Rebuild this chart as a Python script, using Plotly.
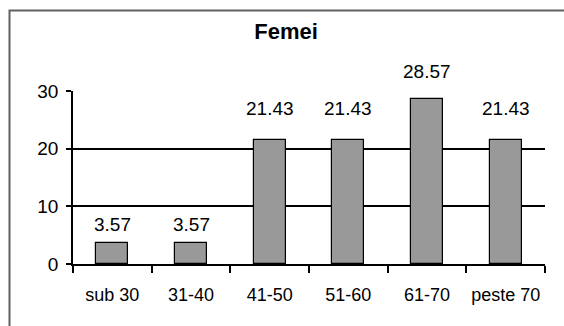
import plotly.graph_objects as go

# Age groups and percentage of women in each group
categories = ["sub 30", "31-40", "41-50", "51-60", "61-70", "peste 70"]
values = [3.57, 3.57, 21.43, 21.43, 28.57, 21.43]
y_ticks = [0, 10, 20, 30]

# vertical gap (px) between each bar top and its value label
label_gap = [9, 9, 22, 22, 18, 22]

W, H = 564, 326
L, R, T, B = 73, 19, 91, 62
pw, ph = W - L - R, H - T - B

FONT = "Liberation Sans Narrow, Arial Narrow, Liberation Sans, Arial, sans-serif"

fig = go.Figure(
    go.Bar(
        x=categories,
        y=values,
        width=0.41,
        marker=dict(color="#999999", line=dict(color="#000000", width=1.2)),
        cliponaxis=False,
    )
)

for cat, v, gap in zip(categories, values, label_gap):
    fig.add_annotation(
        x=cat,
        y=v,
        text=f"{v:.2f}",
        showarrow=False,
        yanchor="bottom",
        yshift=gap - 3,
        font=dict(family=FONT, size=19, color="#000000"),
    )


def px_x(p):
    return (p - L) / pw


def px_y(p):
    return (H - B - p) / ph


fig.update_layout(
    width=W,
    height=H,
    margin=dict(l=L, r=R, t=T, b=B, pad=0),
    paper_bgcolor="white",
    plot_bgcolor="white",
    showlegend=False,
    bargap=0,
    font=dict(family=FONT, size=19, color="#000000"),
    title=dict(
        text="<b>Femei</b>",
        xref="container",
        yref="container",
        x=286 / W,
        y=1 - 31 / H,
        xanchor="center",
        yanchor="middle",
        font=dict(family="Liberation Sans, Arial, sans-serif", size=22, color="#000000"),
    ),
    xaxis=dict(
        type="category",
        showline=True,
        linecolor="#000000",
        linewidth=1.5,
        ticks="outside",
        tickson="boundaries",
        ticklen=7,
        tickwidth=1.5,
        tickcolor="#000000",
        showgrid=False,
        ticklabelstandoff=14,
        tickfont=dict(family=FONT, size=18),
        range=[-0.5, 5.5],
    ),
    yaxis=dict(
        range=[0, 30],
        tickvals=y_ticks,
        showline=True,
        linecolor="#000000",
        linewidth=1.5,
        ticks="outside",
        ticklen=5,
        tickwidth=1.5,
        tickcolor="#000000",
        showgrid=True,
        gridcolor="#000000",
        gridwidth=1.5,
        zeroline=False,
        ticklabelstandoff=4,
        tickfont=dict(family=FONT, size=19),
    ),
    shapes=[
        dict(
            type="rect",
            xref="paper",
            yref="paper",
            x0=px_x(9.5),
            x1=px_x(620),
            y0=px_y(380),
            y1=px_y(10.5),
            line=dict(color="#606060", width=2),
            layer="below",
        )
    ],
)

fig.write_html("out.html")
